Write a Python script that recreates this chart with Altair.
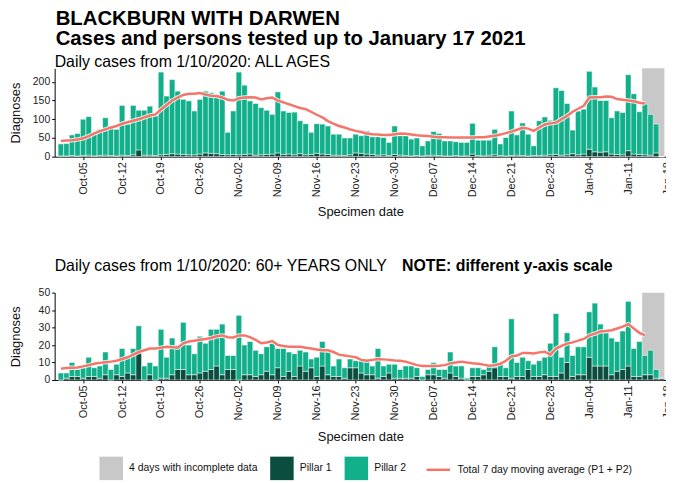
import altair as alt
import pandas as pd

FONT = "Liberation Sans"
DAY_MS = 86400000

# ---------------- data ----------------
first_day = "2020-10-01"
n_days = 109  # 1 Oct 2020 .. 17 Jan 2021

# ALL AGES: total daily cases (Pillar 1 + Pillar 2)
all_total = [34, 35, 58, 62, 100, 107, 65, 73, 104, 82,
             73, 137, 87, 137, 124, 124, 135, 109, 226, 162,
             206, 175, 153, 149, 122, 153, 175, 171, 162, 175,
             65, 122, 226, 191, 149, 142, 131, 124, 113, 173,
             122, 118, 119, 96, 88, 65, 88, 87, 82, 60,
             60, 50, 50, 60, 56, 69, 53, 53, 51, 38,
             82, 56, 56, 47, 50, 29, 42, 67, 62, 42,
             42, 40, 38, 38, 89, 44, 44, 44, 73, 34,
             51, 122, 58, 90, 60, 29, 96, 106, 97, 184,
             177, 142, 71, 122, 127, 228, 186, 150, 150, 104,
             122, 118, 219, 168, 120, 140, 113, 87, 0]
# ALL AGES: Pillar 1 part
all_p1 = [2, 2, 3, 2, 3, 4, 2, 3, 4, 3,
          2, 4, 3, 5, 18, 4, 4, 3, 5, 6,
          8, 7, 6, 5, 5, 7, 10, 9, 8, 6,
          5, 6, 5, 6, 7, 4, 5, 6, 7, 10,
          6, 7, 5, 8, 5, 6, 9, 7, 6, 4,
          4, 3, 5, 10, 9, 7, 6, 4, 5, 3,
          6, 4, 3, 2, 3, 2, 3, 4, 3, 2,
          2, 3, 2, 2, 7, 3, 2, 4, 5, 3,
          2, 3, 4, 3, 2, 3, 3, 4, 5, 6,
          4, 5, 8, 5, 7, 20, 13, 12, 13, 7,
          6, 5, 16, 7, 6, 5, 4, 10, 0]
# ALL AGES: total 7 day moving average (to 14 Jan)
all_ma = [42, 43, 44, 46, 49, 55, 62, 68, 73, 78,
          82, 88, 92, 96, 100, 105, 110, 113, 126, 138,
          150, 158, 165, 168, 168, 170, 166, 163, 162, 158,
          152, 150, 156, 158, 159, 158, 153, 156, 158, 150,
          145, 140, 135, 130, 127, 120, 112, 105, 95, 88,
          82, 78, 73, 69, 66, 62, 60, 59, 58, 58,
          60, 62, 61, 59, 57, 56, 55, 53, 52, 52,
          51, 51, 51, 51, 51, 52, 52, 54, 56, 59,
          63, 67, 72, 77, 75, 69, 78, 86, 89, 91,
          100, 109, 120, 128, 136, 158, 159, 159, 161, 160,
          154, 152, 150, 148, 144, 142]

# 60+ YEARS: total daily cases
old_total = [4, 4, 10, 6, 7, 13, 7, 8, 16, 6,
             9, 18, 13, 18, 31, 8, 10, 8, 29, 13,
             24, 20, 33, 20, 15, 25, 21, 29, 29, 32,
             14, 14, 37, 20, 22, 17, 15, 19, 21, 18,
             18, 16, 15, 17, 16, 12, 13, 22, 16, 8,
             12, 7, 12, 11, 11, 12, 8, 18, 8, 9,
             9, 6, 8, 8, 7, 2, 6, 10, 6, 6,
             16, 8, 8, 1, 7, 7, 6, 8, 19, 10,
             7, 35, 10, 13, 11, 9, 11, 13, 21, 38,
             13, 27, 14, 19, 19, 39, 44, 32, 27, 24,
             22, 28, 45, 18, 22, 14, 17, 6, 1]
# 60+ YEARS: Pillar 1 part
old_p1 = [0, 1, 2, 2, 1, 2, 2, 1, 3, 0,
          3, 2, 4, 3, 16, 0, 3, 0, 1, 1,
          3, 6, 6, 3, 3, 4, 5, 6, 8, 3,
          6, 6, 0, 3, 3, 2, 3, 5, 3, 7,
          2, 5, 2, 8, 5, 7, 2, 8, 3, 2,
          2, 1, 7, 7, 4, 3, 3, 1, 2, 4,
          1, 1, 1, 1, 2, 0, 3, 3, 2, 1,
          4, 2, 1, 0, 2, 2, 3, 5, 7, 2,
          2, 1, 2, 2, 6, 2, 2, 3, 2, 2,
          4, 10, 2, 3, 3, 13, 8, 8, 8, 3,
          5, 6, 8, 2, 2, 3, 3, 1, 1]
# 60+ YEARS: total 7 day moving average (to 14 Jan)
old_ma = [6.5, 6.8, 7, 7.2, 7.8, 8.5, 9.3, 9.8, 10.2, 10.5,
          11, 12, 13, 14.5, 16, 17, 18, 18, 18.5, 19,
          18.8, 18.5, 21, 22, 22.5, 23, 23.5, 24, 25, 25.5,
          24.5, 24.3, 25.5, 25.5, 24.5, 23, 21, 21.5, 22.3, 20,
          19.5, 19, 19, 19, 18.5, 18, 17.5, 17, 17, 16,
          14.5, 14, 13.5, 13, 11.5, 11, 11.5, 12, 11.8, 11.5,
          11.2, 11, 10.5, 9.5, 8.5, 8, 8, 8, 8.2, 8.5,
          9.5, 10, 10.5, 10, 9.6, 9.3, 8.8, 8.2, 8.5, 9.3,
          11, 13.5, 14, 15.5, 15.5, 15.2, 15.8, 16.2, 14.5, 18,
          19.5, 20.8, 21.5, 22.5, 23.5, 25.5, 26.5, 27.8, 28, 28.5,
          29.5, 30.5, 32, 29.5, 27, 25.7]

series_names = ["4 days with incomplete data", "Pillar 1", "Pillar 2"]
series_colors = ["#C8C8C8", "#0B4E3F", "#12AF8B"]
ma_name = "Total 7 day moving average (P1 + P2)"
ma_color = "#F6756B"

incomplete_first = "2021-01-14"
incomplete_last = "2021-01-17"
tick_first = "2020-10-05"
n_ticks = 16

all_yticks = [0, 50, 100, 150, 200]
old_yticks = [0, 10, 20, 30, 40, 50]

titles = ["BLACKBURN WITH DARWEN", "Cases and persons tested up to January 17 2021"]
top_title = "Daily cases from 1/10/2020: ALL AGES"
bottom_title = "Daily cases from 1/10/2020: 60+ YEARS ONLY"
note_text = "NOTE: different y-axis scale"

# ---------------- tables ----------------
def ms(s):
    return int(pd.Timestamp(s, tz="UTC").timestamp() * 1000)

t0 = ms(first_day)
days = [t0 + i * DAY_MS for i in range(n_days)]
tick_values = [ms(tick_first) + 7 * k * DAY_MS for k in range(n_ticks)]
x_domain = [t0 - int(1.125 * DAY_MS), ms("2021-01-18") + DAY_MS // 2]


def bar_table(total, p1):
    rows = []
    for d, t, p in zip(days, total, p1):
        rows.append({"start": d - DAY_MS // 2, "end": d + DAY_MS // 2,
                     "series": "Pillar 1", "y0": 0, "y1": p})
        rows.append({"start": d - DAY_MS // 2, "end": d + DAY_MS // 2,
                     "series": "Pillar 2", "y0": p, "y1": t})
    return pd.DataFrame(rows)


def ma_table(ma):
    return pd.DataFrame({"date": days[:len(ma)], "ma": ma, "label": ma_name})


def grey_table(ymax):
    return pd.DataFrame({"start": [ms(incomplete_first) - DAY_MS // 2],
                         "end": [ms(incomplete_last) + DAY_MS // 2],
                         "y0": [0], "y1": [ymax],
                         "series": [series_names[0]]})


W = 620


def panel(total, p1, ma, ymax, yvals, height, heading, heading_y, note, xtitle_pad):
    xs = alt.Scale(type="utc", domain=x_domain, nice=False)
    ys = alt.Scale(domain=[0, ymax], nice=False, zero=True)
    xaxis = alt.Axis(values=tick_values, format="%b-%d", labelAngle=270,
                     title="Specimen date", grid=False, tickSize=3,
                     labelPadding=2, titlePadding=xtitle_pad, labelOverlap=False,
                     labelFontSize=11, titleX=308)
    yaxis = alt.Axis(values=yvals, tickCount=len(yvals), title="Diagnoses", grid=False,
                     tickSize=3, labelPadding=2, titleX=-32, labelOverlap=False,
                     format="d")
    legends = note is not None
    cscale = alt.Scale(domain=series_names, range=series_colors)
    sscale = alt.Scale(domain=[ma_name], range=[ma_color])
    if legends:
        cleg = alt.Legend(orient="none", legendX=45, legendY=165, direction="horizontal",
                          title=None, symbolType="square", symbolSize=560,
                          symbolStrokeWidth=0, labelFontSize=10.5, labelOffset=6,
                          columnPadding=12, labelFont=FONT, labelColor="#111",
                          labelLimit=300)
        sleg = alt.Legend(orient="none", legendX=373, legendY=165, direction="horizontal",
                          title=None, symbolType="stroke", symbolSize=560,
                          symbolStrokeWidth=2.5, labelFontSize=10.5, labelOffset=6,
                          labelFont=FONT, labelColor="#111", labelLimit=300)
        color = alt.Color("series:N", scale=cscale, legend=cleg)
        stroke = alt.Stroke("label:N", scale=sscale, legend=sleg)
    else:
        color = alt.Color("series:N", scale=cscale, legend=None)
        stroke = alt.Stroke("label:N", scale=sscale, legend=None)

    X = lambda f: alt.X(f, scale=xs, axis=xaxis)
    Y = lambda f: alt.Y(f, scale=ys, axis=yaxis)

    grey = alt.Chart(grey_table(ymax)).mark_rect().encode(
        x=X("start:T"), x2="end:T", y=Y("y0:Q"), y2="y1:Q", color=color,
    )
    bars = alt.Chart(bar_table(total, p1)).mark_rect(stroke="white", strokeWidth=0.5).encode(
        x=X("start:T"), x2="end:T", y=Y("y0:Q"), y2="y1:Q", color=color,
    )
    halo = alt.Chart(ma_table(ma)).mark_line(color="white", strokeWidth=4.5, opacity=0.8).encode(
        x=X("date:T"), y=Y("ma:Q"),
    )
    line = alt.Chart(ma_table(ma)).mark_line(strokeWidth=2.5).encode(
        x=X("date:T"), y=Y("ma:Q"), stroke=stroke,
    )
    head = alt.Chart(pd.DataFrame({"t": [heading]})).mark_text(
        align="left", baseline="alphabetic", fontSize=16, font=FONT, color="black").encode(
        x=alt.value(0), y=alt.value(heading_y), text="t:N")
    layers = [grey, bars, halo, line, head]
    if note is not None:
        nt = alt.Chart(pd.DataFrame({"t": [note]})).mark_text(
            align="left", baseline="alphabetic", fontSize=16, fontWeight="bold",
            font=FONT, color="black").encode(
            x=alt.value(350), y=alt.value(heading_y), text="t:N")
        layers.append(nt)
    return alt.layer(*layers).properties(width=W, height=height)


top = panel(all_total, all_p1, all_ma, 236, all_yticks, 89, top_title, -1, None, 9)
bottom = panel(old_total, old_p1, old_ma, 50, old_yticks, 88, bottom_title, -22, note_text, 11)

chart = alt.vconcat(top, bottom, spacing=39).resolve_scale(
    color="independent", stroke="independent"
).resolve_legend(color="independent", stroke="independent").properties(
    title=alt.TitleParams(titles, anchor="start", fontSize=20.5, fontWeight="bold",
                          font=FONT, color="black", lineHeight=20, offset=5, dx=46),
    padding={"left": 2, "top": -1, "right": -7, "bottom": 0},
).configure_view(stroke=None).configure_axis(
    labelFont=FONT, titleFont=FONT, labelFontSize=10.5, titleFontSize=13,
    titleFontWeight="normal", labelColor="#222", titleColor="#111",
    domainColor="black", tickColor="black", domainWidth=1,
)

chart.save("out.html", embed_options={"renderer": "svg", "actions": False})
